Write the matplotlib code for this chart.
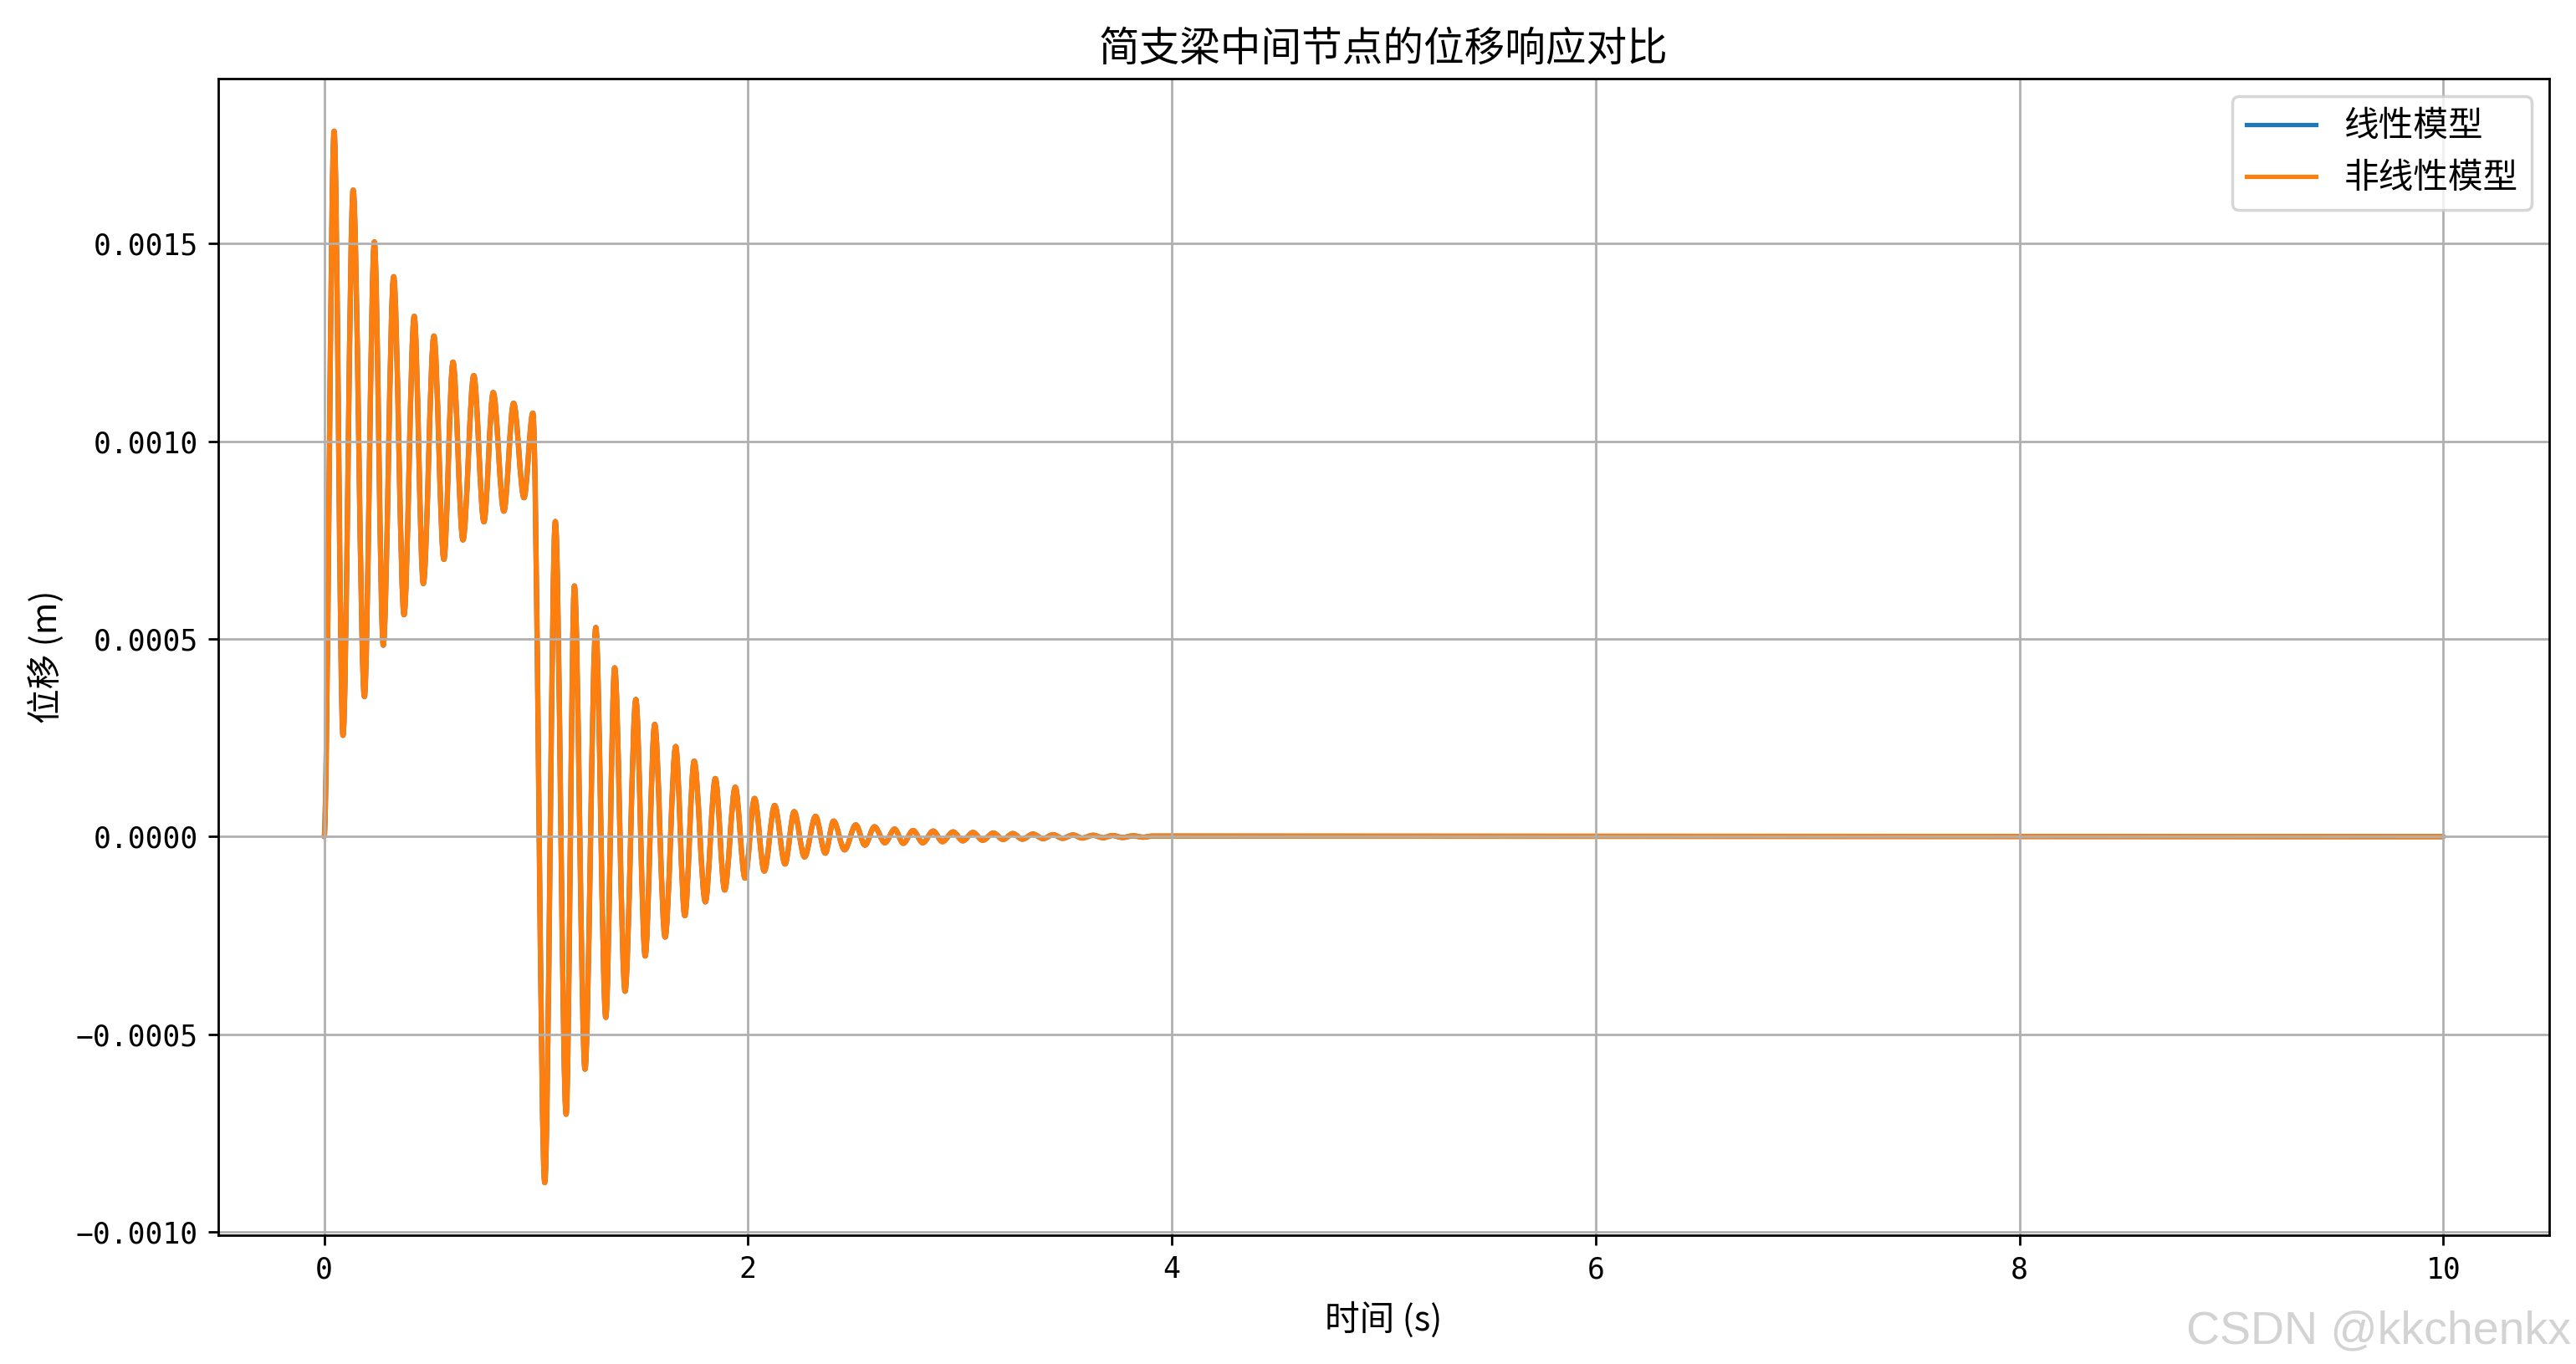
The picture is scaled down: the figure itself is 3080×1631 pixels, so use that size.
import matplotlib
matplotlib.use('Agg')
import matplotlib.pyplot as plt
from matplotlib.path import Path
from matplotlib.patches import PathPatch

plt.rcParams['font.family'] = ['Noto Sans CJK SC', 'DejaVu Sans']

# 极值点 (时间 s, 位移 m)
t_pts = [0.000, 0.047, 0.089, 0.137, 0.190, 0.237, 0.279, 0.328, 0.377, 0.425,
         0.468, 0.518, 0.565, 0.608, 0.655, 0.706, 0.754, 0.798, 0.848, 0.894,
         0.943, 0.985,
         1.041, 1.091, 1.142, 1.181, 1.231, 1.282, 1.329, 1.371, 1.420, 1.471,
         1.515, 1.560, 1.609, 1.659, 1.702, 1.746, 1.799, 1.846, 1.890, 1.940,
         1.986, 2.031, 2.077, 2.126, 2.175, 2.218, 2.267, 2.319, 2.365, 2.404,
         2.456, 2.509, 2.552, 2.597, 2.646, 2.692,
         2.733, 2.779, 2.825, 2.874, 2.918, 2.968, 3.014, 3.062, 3.108, 3.158,
         3.204, 3.250, 3.295, 3.345, 3.393, 3.440, 3.485, 3.534, 3.577, 3.629,
         3.675, 3.721, 3.767, 3.819, 3.864, 3.910, 10.0]

u_nonlinear = [0.0, 1.784e-3, 0.256e-3, 1.635e-3, 0.354e-3, 1.504e-3, 0.484e-3,
               1.416e-3, 0.561e-3, 1.316e-3, 0.640e-3, 1.266e-3, 0.701e-3,
               1.200e-3, 0.750e-3, 1.166e-3, 0.796e-3, 1.123e-3, 0.823e-3,
               1.096e-3, 0.857e-3, 1.071e-3,
               -0.875e-3, 0.797e-3, -0.702e-3, 0.634e-3, -0.588e-3, 0.529e-3,
               -0.457e-3, 0.427e-3, -0.391e-3, 0.347e-3, -0.302e-3, 0.284e-3,
               -0.254e-3, 0.228e-3, -0.200e-3, 0.191e-3, -0.165e-3, 0.147e-3,
               -0.135e-3, 0.125e-3, -0.105e-3, 9.67e-5, -8.71e-5, 7.88e-5,
               -6.92e-5, 6.32e-5, -5.13e-5, 5.13e-5, -4.18e-5, 3.94e-5,
               -3.34e-5, 2.98e-5, -2.15e-5, 2.50e-5, -1.55e-5, 1.90e-5,
               -1.70e-5, 1.56e-5, -1.56e-5, 1.41e-5, -1.27e-5, 1.20e-5,
               -1.06e-5, 1.06e-5, -9.2e-6, 9.2e-6, -7.1e-6, 7.8e-6, -6.4e-6,
               6.4e-6, -5.0e-6, 5.0e-6, -4.2e-6, 4.2e-6, -3.5e-6, 3.5e-6,
               -2.8e-6, 2.8e-6, -2.1e-6, 2.1e-6, -1.4e-6, 1.4e-6, 0.0]

# 线性模型与非线性模型曲线重合
u_linear = list(u_nonlinear)


def smooth_path(t, u):
    # 极值点之间用三次贝塞尔曲线连接(极值处切线水平)
    verts = [(t[0], u[0])]
    codes = [Path.MOVETO]
    for i in range(len(t) - 1):
        d = t[i + 1] - t[i]
        verts += [(t[i] + d / 3, u[i]), (t[i] + 2 * d / 3, u[i + 1]),
                  (t[i + 1], u[i + 1])]
        codes += [Path.CURVE4] * 3
    return Path(verts, codes)


fig = plt.figure(figsize=(12.32, 6.524), dpi=250)
ax = fig.add_subplot(111)
fig.subplots_adjust(left=0.0847, right=0.9896, top=0.9424, bottom=0.0944)

for u, c, lab in [(u_linear, 'C0', '线性模型'), (u_nonlinear, 'C1', '非线性模型')]:
    ax.add_patch(PathPatch(smooth_path(t_pts, u), facecolor='none',
                           edgecolor=c, lw=1.8, capstyle='round',
                           joinstyle='round'))
    ax.plot([], [], color=c, label=lab)
ax.autoscale_view()

ax.set_title('简支梁中间节点的位移响应对比', fontsize=14)
ax.set_xlabel('时间 (s)', fontsize=12, labelpad=6)
ax.set_ylabel('位移 (m)', fontsize=12)
ax.legend(fontsize=12)
ax.grid(True)
for lbl in ax.get_xticklabels() + ax.get_yticklabels():
    lbl.set_family(['DejaVu Sans Mono'])

fig.text(0.998, 0.008, 'CSDN @kkchenkx', ha='right', va='bottom',
         fontsize=16, color='#d3d3d3', family='Liberation Sans')

plt.savefig('out.png', dpi=250)
